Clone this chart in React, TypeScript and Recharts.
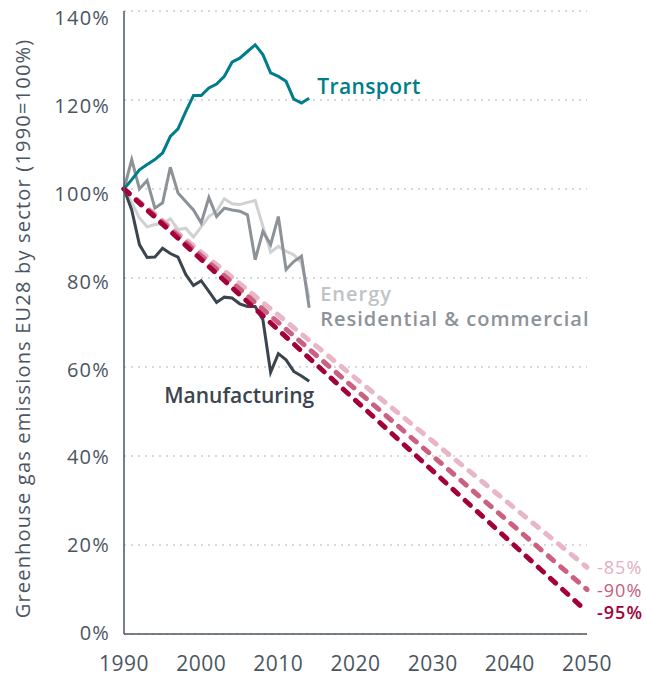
import React from "react"
import { LineChart, Line, XAxis, YAxis, CartesianGrid } from "recharts"

// EU28 greenhouse gas emissions by sector, 1990 = 100%
const years = [1990, 1991, 1992, 1993, 1994, 1995, 1996, 1997, 1998, 1999, 2000, 2001, 2002, 2003, 2004, 2005, 2006, 2007, 2008, 2009, 2010, 2011, 2012, 2013, 2014]
const transport = [100, 102.1, 104.3, 105.5, 106.6, 108.1, 111.8, 113.5, 117.4, 121, 121, 122.7, 123.6, 125.3, 128.5, 129.4, 130.9, 132.4, 130.2, 126.1, 125.3, 124.2, 120.2, 119.3, 120.4]
const residential = [100, 106.6, 100, 101.9, 95.7, 96.9, 104.9, 99.1, 97.2, 95.3, 92.4, 98.1, 93.8, 95.7, 95.3, 95, 94.2, 84.1, 90.5, 87.5, 93.8, 81.9, 83.7, 84.9, 73.3]
const energy = [100, 96.9, 93.5, 91.5, 92, 92.2, 93.3, 90.9, 91.2, 89.2, 91.5, 93.8, 95, 97.8, 96.7, 96.5, 97, 97.4, 91.6, 85.8, 87.1, 86, 85.2, 83.4, 75.5]
const manufacturing = [100, 95.3, 87.5, 84.6, 84.7, 86.7, 85.5, 84.7, 80.8, 78.3, 79.4, 77, 74.5, 75.7, 75.5, 74.2, 73.6, 73.6, 70.6, 58.8, 63, 61.6, 59, 58, 56.8]

// reduction pathways: 1990 start -> 2050 target
const targetYear = 2050
const pathStart = 100
const path85 = 15
const path90 = 10
const path95 = 5

const xTicks = [1990, 2000, 2010, 2020, 2030, 2040, 2050]
const yTicks = [0, 20, 40, 60, 80, 100, 120, 140]

const FONT = "'Open Sans', sans-serif"
const AXIS = "#4b555f"

const data = years.map((year, i) => ({
  year,
  transport: transport[i],
  residential: residential[i],
  energy: energy[i],
  manufacturing: manufacturing[i],
  p85: i === 0 ? pathStart : null,
  p90: i === 0 ? pathStart : null,
  p95: i === 0 ? pathStart : null,
}))
data.push({
  year: targetYear,
  transport: null,
  residential: null,
  energy: null,
  manufacturing: null,
  p85: path85,
  p90: path90,
  p95: path95,
} as any)

const lastSector = years.length - 1
const lastPath = data.length - 1

const endLabel = (text, color, at, dx, dy, opts: any = {}) => (props) => {
  if (props.index !== at || props.y == null) return null
  const { anchor = "start", size = 21, weight = 600, spacing = 0 } = opts
  return (
    <text
      x={props.x + dx}
      y={props.y + dy}
      fill={color}
      fontSize={size}
      fontWeight={weight}
      fontFamily={FONT}
      letterSpacing={spacing}
      textAnchor={anchor}
    >
      {text}
    </text>
  )
}

// labels sit a little lower toward the top of the axis, as in the source
const YTick = ({ x, y, payload }) => (
  <text
    x={x}
    y={y - 1 + (payload.value * 8) / 140}
    dy="0.36em"
    textAnchor="end"
    fill={AXIS}
    fontSize={20}
    letterSpacing={1.2}
    fontFamily={FONT}
  >
    {`${payload.value}%`}
  </text>
)

const YTitle = (props) => {
  const { viewBox } = props
  const cx = viewBox.x + 22
  const cy = viewBox.y + viewBox.height / 2 + 6
  return (
    <text
      x={cx}
      y={cy}
      transform={`rotate(-90 ${cx} ${cy})`}
      textAnchor="middle"
      dominantBaseline="central"
      fill={AXIS}
      fontSize={20}
      letterSpacing={1.2}
      fontFamily={FONT}
    >
      Greenhouse gas emissions EU28 by sector (1990=100%)
    </text>
  )
}

export default function App() {
  const dash = { strokeWidth: 5, strokeDasharray: "7 9.5", strokeLinecap: "round" as const }
  return (
    <div style={{ position: "absolute", left: 0, top: 0, background: "#fff" }}>
      <LineChart width={646} height={676} data={data} margin={{ top: 11, right: 59, bottom: 0, left: 0 }}>
        <CartesianGrid vertical={false} stroke="#c9cbce" strokeDasharray="2 5" strokeWidth={1.5} />
        <XAxis
          dataKey="year"
          type="number"
          domain={[1990, 2050]}
          ticks={xTicks}
          height={42}
          tickSize={0}
          tickMargin={22}
          stroke={AXIS}
          strokeWidth={1.5}
          tick={{ fill: AXIS, fontSize: 21, fontFamily: FONT, letterSpacing: 0.5 }}
        />
        <YAxis
          type="number"
          domain={[0, 140]}
          ticks={yTicks}
          width={124}
          tickSize={0}
          tickMargin={14}
          stroke={AXIS}
          strokeWidth={1.5}
          tick={<YTick />}
          label={<YTitle />}
        />
        <Line dataKey="energy" stroke="#cfd1d3" strokeWidth={3} dot={false} isAnimationActive={false}
          label={endLabel("Energy", "#c0c3c6", lastSector, 11, 3, { size: 20, spacing: 1 })} />
        <Line dataKey="residential" stroke="#8d9298" strokeWidth={3} dot={false} isAnimationActive={false}
          label={endLabel("Residential & commercial", "#8d9298", lastSector, 11, 18, { size: 20, spacing: 1 })} />
        <Line dataKey="manufacturing" stroke="#3b4550" strokeWidth={3} dot={false} isAnimationActive={false}
          label={endLabel("Manufacturing", "#3b4550", lastSector, 5, 22, { anchor: "end" })} />
        <Line dataKey="transport" stroke="#007d8a" strokeWidth={3} dot={false} isAnimationActive={false}
          label={endLabel("Transport", "#007d8a", lastSector, 8, -4, { spacing: 0.4 })} />
        <Line dataKey="p85" stroke="#e8b6c6" {...dash} connectNulls dot={false} isAnimationActive={false}
          label={endLabel("-85%", "#e4afc0", lastPath, 10, 7, { size: 18, weight: 500, spacing: 1 })} />
        <Line dataKey="p90" stroke="#c9617f" {...dash} connectNulls dot={false} isAnimationActive={false}
          label={endLabel("-90%", "#c65d7c", lastPath, 10, 7, { size: 18, weight: 500, spacing: 1 })} />
        <Line dataKey="p95" stroke="#a3003a" {...dash} connectNulls dot={false} isAnimationActive={false}
          label={endLabel("-95%", "#a3003a", lastPath, 10, 7, { size: 18, weight: 600, spacing: 1 })} />
      </LineChart>
    </div>
  )
}
